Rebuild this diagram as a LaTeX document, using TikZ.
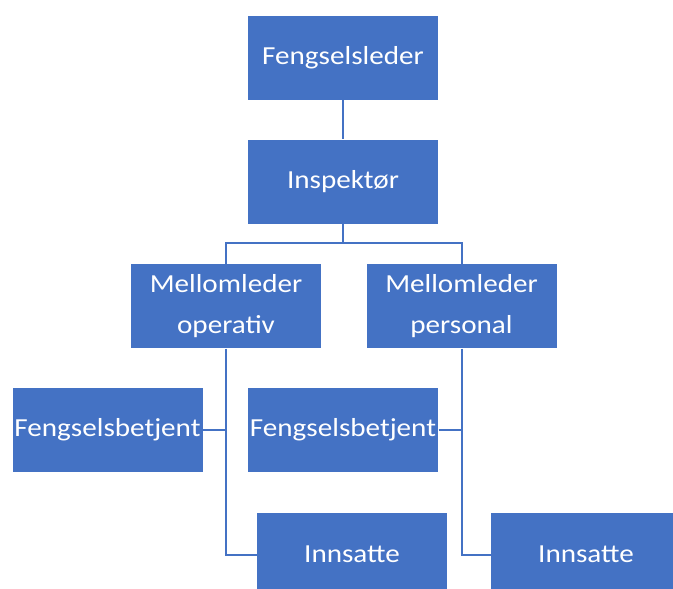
\documentclass[tikz,border=0pt]{standalone}
\usepackage{fontspec}
\usepackage{graphicx}
\setmainfont{Carlito}
\definecolor{boxblue}{HTML}{4472C4}
\newcommand{\wtxt}[1]{\scalebox{1.12}[1]{#1}}
\tikzset{
  orgbox/.style={rectangle, fill=boxblue, draw=white, line width=0.8pt,
    minimum width=191pt, minimum height=85pt, inner sep=0pt, outer sep=0pt,
    text=white, align=center, font=\fontsize{26}{41}\selectfont},
  link/.style={draw=boxblue, line width=2pt}
}
\begin{document}
\begin{tikzpicture}[x=1pt,y=-1pt]
\useasboundingbox (0,0) rectangle (673,589);
\clip (0,0) rectangle (673,589);
\fill[white] (0,0) rectangle (673,589);
\node[orgbox] (fl) at (343,57.5) {\wtxt{Fengselsleder}};
\node[orgbox] (insp) at (343,181.5) {\wtxt{Inspektør}};
\node[orgbox] (mo) at (226,306) {\wtxt{Mellomleder}\\\wtxt{operativ}};
\node[orgbox] (mp) at (461.5,306) {\wtxt{Mellomleder}\\\wtxt{personal}};
\node[orgbox] (fb1) at (107.5,429.5) {\wtxt{Fengselsbetjent}};
\node[orgbox] (fb2) at (343,429.5) {\wtxt{Fengselsbetjent}};
\node[orgbox] (inn1) at (352,554.5) {\wtxt{Innsatte}};
\node[orgbox] (inn2) at (586,554.5) {\wtxt{Innsatte}};
\coordinate (split) at (343,243);
\draw[link] (fl.south) -- (insp.north);
\draw[link] (insp.south) -- (split) -| (mo.north);
\draw[link] (split) -| (mp.north);
\draw[link] (mo.south) |- (inn1.west);
\draw[link] (fb1.east) -- (fb1.east -| mo.south);
\draw[link] (mp.south) |- (inn2.west);
\draw[link] (fb2.east) -- (fb2.east -| mp.south);
\end{tikzpicture}
\end{document}
